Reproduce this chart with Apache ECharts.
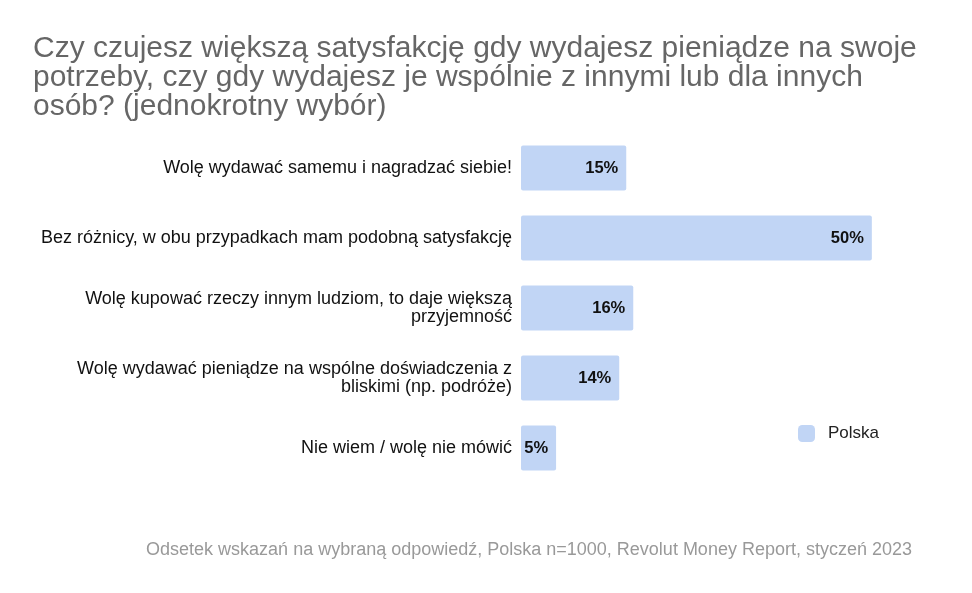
<!DOCTYPE html>
<html><head><meta charset="utf-8">
<script src="https://cdn.jsdelivr.net/npm/echarts@6/dist/echarts.min.js"></script>
<style>html,body{margin:0;padding:0;background:#fff}#c{width:972px;height:593px}</style>
</head><body><div id="c"></div>
<script>
const categories = [
  "Wolę wydawać samemu i nagradzać siebie!",
  "Bez różnicy, w obu przypadkach mam podobną satysfakcję",
  "Wolę kupować rzeczy innym ludziom, to daje większą\nprzyjemność",
  "Wolę wydawać pieniądze na wspólne doświadczenia z\nbliskimi (np. podróże)",
  "Nie wiem / wolę nie mówić"
];
const seriesName = "Polska";
const values = [15, 50, 16, 14, 5];
const titleText = "Czy czujesz większą satysfakcję gdy wydajesz pieniądze na swoje\npotrzeby, czy gdy wydajesz je wspólnie z innymi lub dla innych\nosób? (jednokrotny wybór)";
const footnote = "Odsetek wskazań na wybraną odpowiedź, Polska n=1000, Revolut Money Report, styczeń 2023";

const FF = "Liberation Sans, Arial, sans-serif";
const chart = echarts.init(document.getElementById('c'));
chart.setOption({
  animation: false,
  textStyle: { fontFamily: FF },
  title: [
    { text: titleText, left: 28, top: 29,
      textStyle: { fontSize: 30, fontWeight: 'normal', color: '#666666', lineHeight: 29, fontFamily: FF } },
    { text: footnote, right: 55, top: 536,
      textStyle: { fontSize: 18, fontWeight: 'normal', color: '#999999', fontFamily: FF } }
  ],
  legend: {
    data: [seriesName], left: 793, top: 420, itemWidth: 17, itemHeight: 17, itemGap: 10,
    textStyle: { fontSize: 17, color: '#222', fontFamily: FF, padding: [0, 0, 0, 8] }
  },
  grid: { left: 521, top: 133, height: 350, right: 30 },
  xAxis: { type: 'value', min: 0, max: 60, show: false },
  yAxis: {
    type: 'category', data: categories, inverse: true,
    axisLine: { show: false }, axisTick: { show: false },
    axisLabel: { fontSize: 18, color: '#111', margin: 9, lineHeight: 18, fontFamily: FF }
  },
  series: [{
    name: seriesName, type: 'bar', data: values, barWidth: 45,
    itemStyle: { color: '#c1d5f5', borderRadius: 2 },
    label: { show: true, position: 'insideRight', distance: 8, formatter: '{c}%',
      fontSize: 16.5, fontWeight: 'bold', color: '#111', fontFamily: FF }
  }]
});
</script></body></html>
